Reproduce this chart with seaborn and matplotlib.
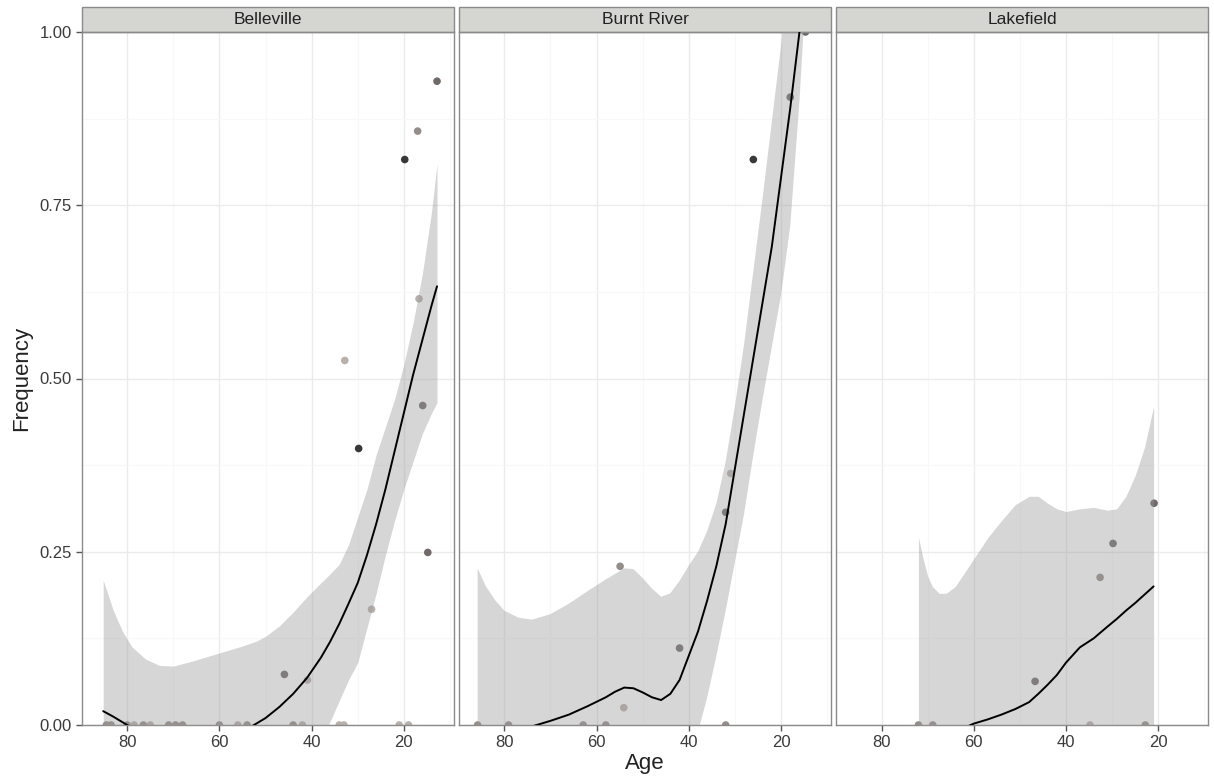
import numpy as np
import pandas as pd
import seaborn as sns
import matplotlib.pyplot as plt
from matplotlib.patches import Rectangle
from matplotlib.ticker import MultipleLocator, FormatStrFormatter

TOWNS = ["Belleville", "Burnt River", "Lakefield"]

# observed speakers: age, frequency, and a token-count level (1 = few .. 4 = many)
bel_age = [12.8, 17.0, 19.8, 16.7, 32.8, 15.9, 29.8, 14.8, 27.0, 45.9, 40.9,
           84.5, 83.5, 80, 78.5, 76.5, 75, 71, 69.5, 68, 60, 56, 54, 44, 42, 34, 33, 21, 19]
bel_freq = [0.929, 0.857, 0.816, 0.615, 0.526, 0.461, 0.399, 0.249, 0.167, 0.073, 0.065,
            0, 0, 0, 0, 0, 0, 0, 0, 0, 0, 0, 0, 0, 0, 0, 0, 0, 0]
bel_n = [3, 2, 4, 1, 1, 3, 4, 3, 1, 3, 1,
         2, 2, 2, 1, 2, 1, 2, 2, 2, 2, 1, 2, 2, 1, 1, 1, 1, 1]

bur_age = [14.7, 18.0, 26.0, 30.9, 32.0, 54.9, 42.0, 54.1,
           85.8, 79.1, 62.9, 58.0, 32.0]
bur_freq = [1.0, 0.906, 0.816, 0.363, 0.307, 0.229, 0.111, 0.025,
            0, 0, 0, 0, 0]
bur_n = [3, 3, 4, 1, 3, 2, 3, 1,
         2, 2, 2, 2, 2]

lak_age = [20.9, 29.8, 32.6, 46.7, 72.0, 68.9, 34.8, 22.8]
lak_freq = [0.320, 0.262, 0.213, 0.063, 0, 0, 0, 0]
lak_n = [3, 3, 2, 3, 2, 2, 1, 2]

# smoothed fit with confidence band
bel_s_age = [85.2, 83, 81, 79, 76, 73, 70, 66, 62, 58, 55, 52, 50, 47, 44, 41, 38, 36, 34, 32,
             30, 28, 26, 24, 22, 20, 18, 16, 14, 12.8]
bel_fit = [0.02, 0.012, 0.004, -0.004, -0.015, -0.022, -0.027, -0.03, -0.028, -0.02,
           -0.01, 0.002, 0.01, 0.026, 0.045, 0.068, 0.097, 0.12, 0.146, 0.175,
           0.205, 0.245, 0.29, 0.34, 0.395, 0.45, 0.505, 0.555, 0.605, 0.633]
bel_hi = [0.209, 0.165, 0.135, 0.113, 0.095, 0.086, 0.085, 0.092, 0.1, 0.108,
          0.114, 0.121, 0.128, 0.143, 0.163, 0.185, 0.205, 0.218, 0.232, 0.26,
          0.3, 0.34, 0.39, 0.43, 0.47, 0.52, 0.58, 0.65, 0.74, 0.81]
bel_lo = [-0.17, -0.15, -0.14, -0.13, -0.12, -0.115, -0.11, -0.11, -0.115, -0.12,
          -0.12, -0.115, -0.105, -0.09, -0.07, -0.045, -0.02, 0.005, 0.035, 0.065,
          0.09, 0.14, 0.19, 0.245, 0.295, 0.34, 0.38, 0.42, 0.45, 0.465]

bur_s_age = [85.8, 84, 82, 80, 77, 74, 70, 66, 62, 58, 56, 54, 52, 50, 48, 46, 44, 42, 40, 38,
             36, 34, 32, 30, 28, 26, 24, 22, 20, 18, 16, 14.7]
bur_fit = [-0.05, -0.04, -0.03, -0.022, -0.012, -0.002, 0.006, 0.015, 0.027, 0.04,
           0.048, 0.054, 0.053, 0.047, 0.04, 0.036, 0.045, 0.065, 0.1, 0.135,
           0.18, 0.23, 0.29, 0.37, 0.45, 0.53, 0.61, 0.69, 0.79, 0.89, 1.0, 1.07]
bur_hi = [0.226, 0.2, 0.18, 0.165, 0.155, 0.152, 0.16, 0.175, 0.193, 0.21,
          0.218, 0.226, 0.225, 0.212, 0.197, 0.185, 0.19, 0.208, 0.23, 0.25,
          0.28, 0.32, 0.38, 0.46, 0.55, 0.655, 0.76, 0.87, 0.98, 1.1, 1.2, 1.28]
bur_lo = [-0.3, -0.26, -0.23, -0.2, -0.17, -0.16, -0.15, -0.14, -0.13, -0.125,
          -0.12, -0.12, -0.12, -0.12, -0.115, -0.11, -0.09, -0.07, -0.04, -0.01,
          0.04, 0.10, 0.165, 0.235, 0.305, 0.39, 0.47, 0.545, 0.62, 0.72, 0.9, 1.05]

lak_s_age = [72, 71, 70, 69, 67.5, 66, 64, 62, 60, 57, 54, 51, 48, 46, 44, 42, 40, 37, 34, 31,
             29, 27, 25, 23, 21]
lak_fit = [-0.04, -0.036, -0.032, -0.028, -0.022, -0.017, -0.01, -0.004, 0.002, 0.008,
           0.015, 0.023, 0.033, 0.045, 0.058, 0.072, 0.09, 0.112, 0.125, 0.142,
           0.153, 0.165, 0.176, 0.188, 0.2]
lak_hi = [0.271, 0.24, 0.215, 0.2, 0.19, 0.19, 0.2, 0.22, 0.24, 0.27,
          0.295, 0.318, 0.33, 0.33, 0.32, 0.312, 0.308, 0.312, 0.314, 0.31,
          0.312, 0.33, 0.36, 0.4, 0.46]
lak_lo = [-0.35, -0.3, -0.26, -0.23, -0.2, -0.19, -0.2, -0.21, -0.22, -0.24,
          -0.25, -0.24, -0.2, -0.17, -0.14, -0.11, -0.08, -0.05, -0.03, -0.02,
          -0.02, -0.02, -0.03, -0.04, -0.06]

points = pd.concat([
    pd.DataFrame({"town": t, "age": a, "freq": f, "n": n})
    for t, a, f, n in zip(TOWNS, [bel_age, bur_age, lak_age],
                          [bel_freq, bur_freq, lak_freq], [bel_n, bur_n, lak_n])
])
smooth = pd.concat([
    pd.DataFrame({"town": t, "age": a, "fit": f, "lo": lo, "hi": hi})
    for t, a, f, lo, hi in zip(TOWNS, [bel_s_age, bur_s_age, lak_s_age],
                               [bel_fit, bur_fit, lak_fit],
                               [bel_lo, bur_lo, lak_lo], [bel_hi, bur_hi, lak_hi])
])

sns.set_theme(style="white")
plt.rcParams["font.family"] = ["Liberation Sans", "DejaVu Sans"]

shades = {1: "#b8b0aa", 2: "#958d89", 3: "#6f6a68", 4: "#383838"}

g = sns.FacetGrid(points, col="town", col_order=TOWNS, sharex=True, sharey=True,
                  height=7, aspect=0.55)
fig = g.figure
fig.set_size_inches(12.14, 7.77)
fig.subplots_adjust(left=82 / 1214, right=1208 / 1214, top=1 - 32 / 777,
                    bottom=1 - 725 / 777, wspace=0.015)

strip_h = 25 / 693
for i, (ax, town) in enumerate(zip(g.axes.flat, TOWNS)):
    pts = points[points.town == town]
    sm = smooth[smooth.town == town]
    ax.set_axisbelow(True)
    ax.xaxis.set_major_locator(MultipleLocator(20))
    ax.xaxis.set_minor_locator(MultipleLocator(10))
    ax.yaxis.set_major_locator(MultipleLocator(0.25))
    ax.yaxis.set_minor_locator(MultipleLocator(0.125))
    ax.yaxis.set_major_formatter(FormatStrFormatter("%.2f"))
    ax.grid(True, which="major", color="#ebebeb", linewidth=1.0)
    ax.grid(True, which="minor", color="#f8f8f8", linewidth=0.8)
    sns.scatterplot(data=pts, x="age", y="freq", hue="n", palette=shades,
                    legend=False, s=30, linewidth=0, ax=ax, zorder=2)
    ax.fill_between(sm.age, sm.lo, sm.hi, color="#999999", alpha=0.4,
                    linewidth=0, zorder=3)
    sns.lineplot(data=sm, x="age", y="fit", color="black", linewidth=1.4,
                 sort=False, estimator=None, ax=ax, zorder=4)
    ax.set_xlim(89.8, 9.2)
    ax.set_ylim(0, 1)
    ax.set_title("")
    ax.set_xlabel("")
    ax.set_ylabel("")
    for sp in ax.spines.values():
        sp.set_visible(True)
        sp.set_color("#8a8a8a")
        sp.set_linewidth(1.0)
    ax.tick_params(axis="both", which="major", direction="out", length=4.5,
                   width=1, color="#555555", labelsize=12, labelcolor="#3a3a3a",
                   bottom=True, left=(i == 0), pad=3)
    ax.tick_params(axis="both", which="minor", length=0)
    ax.add_patch(Rectangle((0, 1), 1, strip_h, transform=ax.transAxes,
                           clip_on=False, facecolor="#d5d5d1",
                           edgecolor="#8a8a8a", linewidth=1.0))
    ax.text(0.5, 1 + strip_h / 2, town, transform=ax.transAxes, ha="center",
            va="center", fontsize=12.5, color="#222222")

g.axes.flat[1].set_xlabel("Age", fontsize=16, color="#222222", labelpad=2)
g.axes.flat[0].set_ylabel("Frequency", fontsize=16, color="#222222", labelpad=5)

fig.savefig("out.png", dpi=100)
